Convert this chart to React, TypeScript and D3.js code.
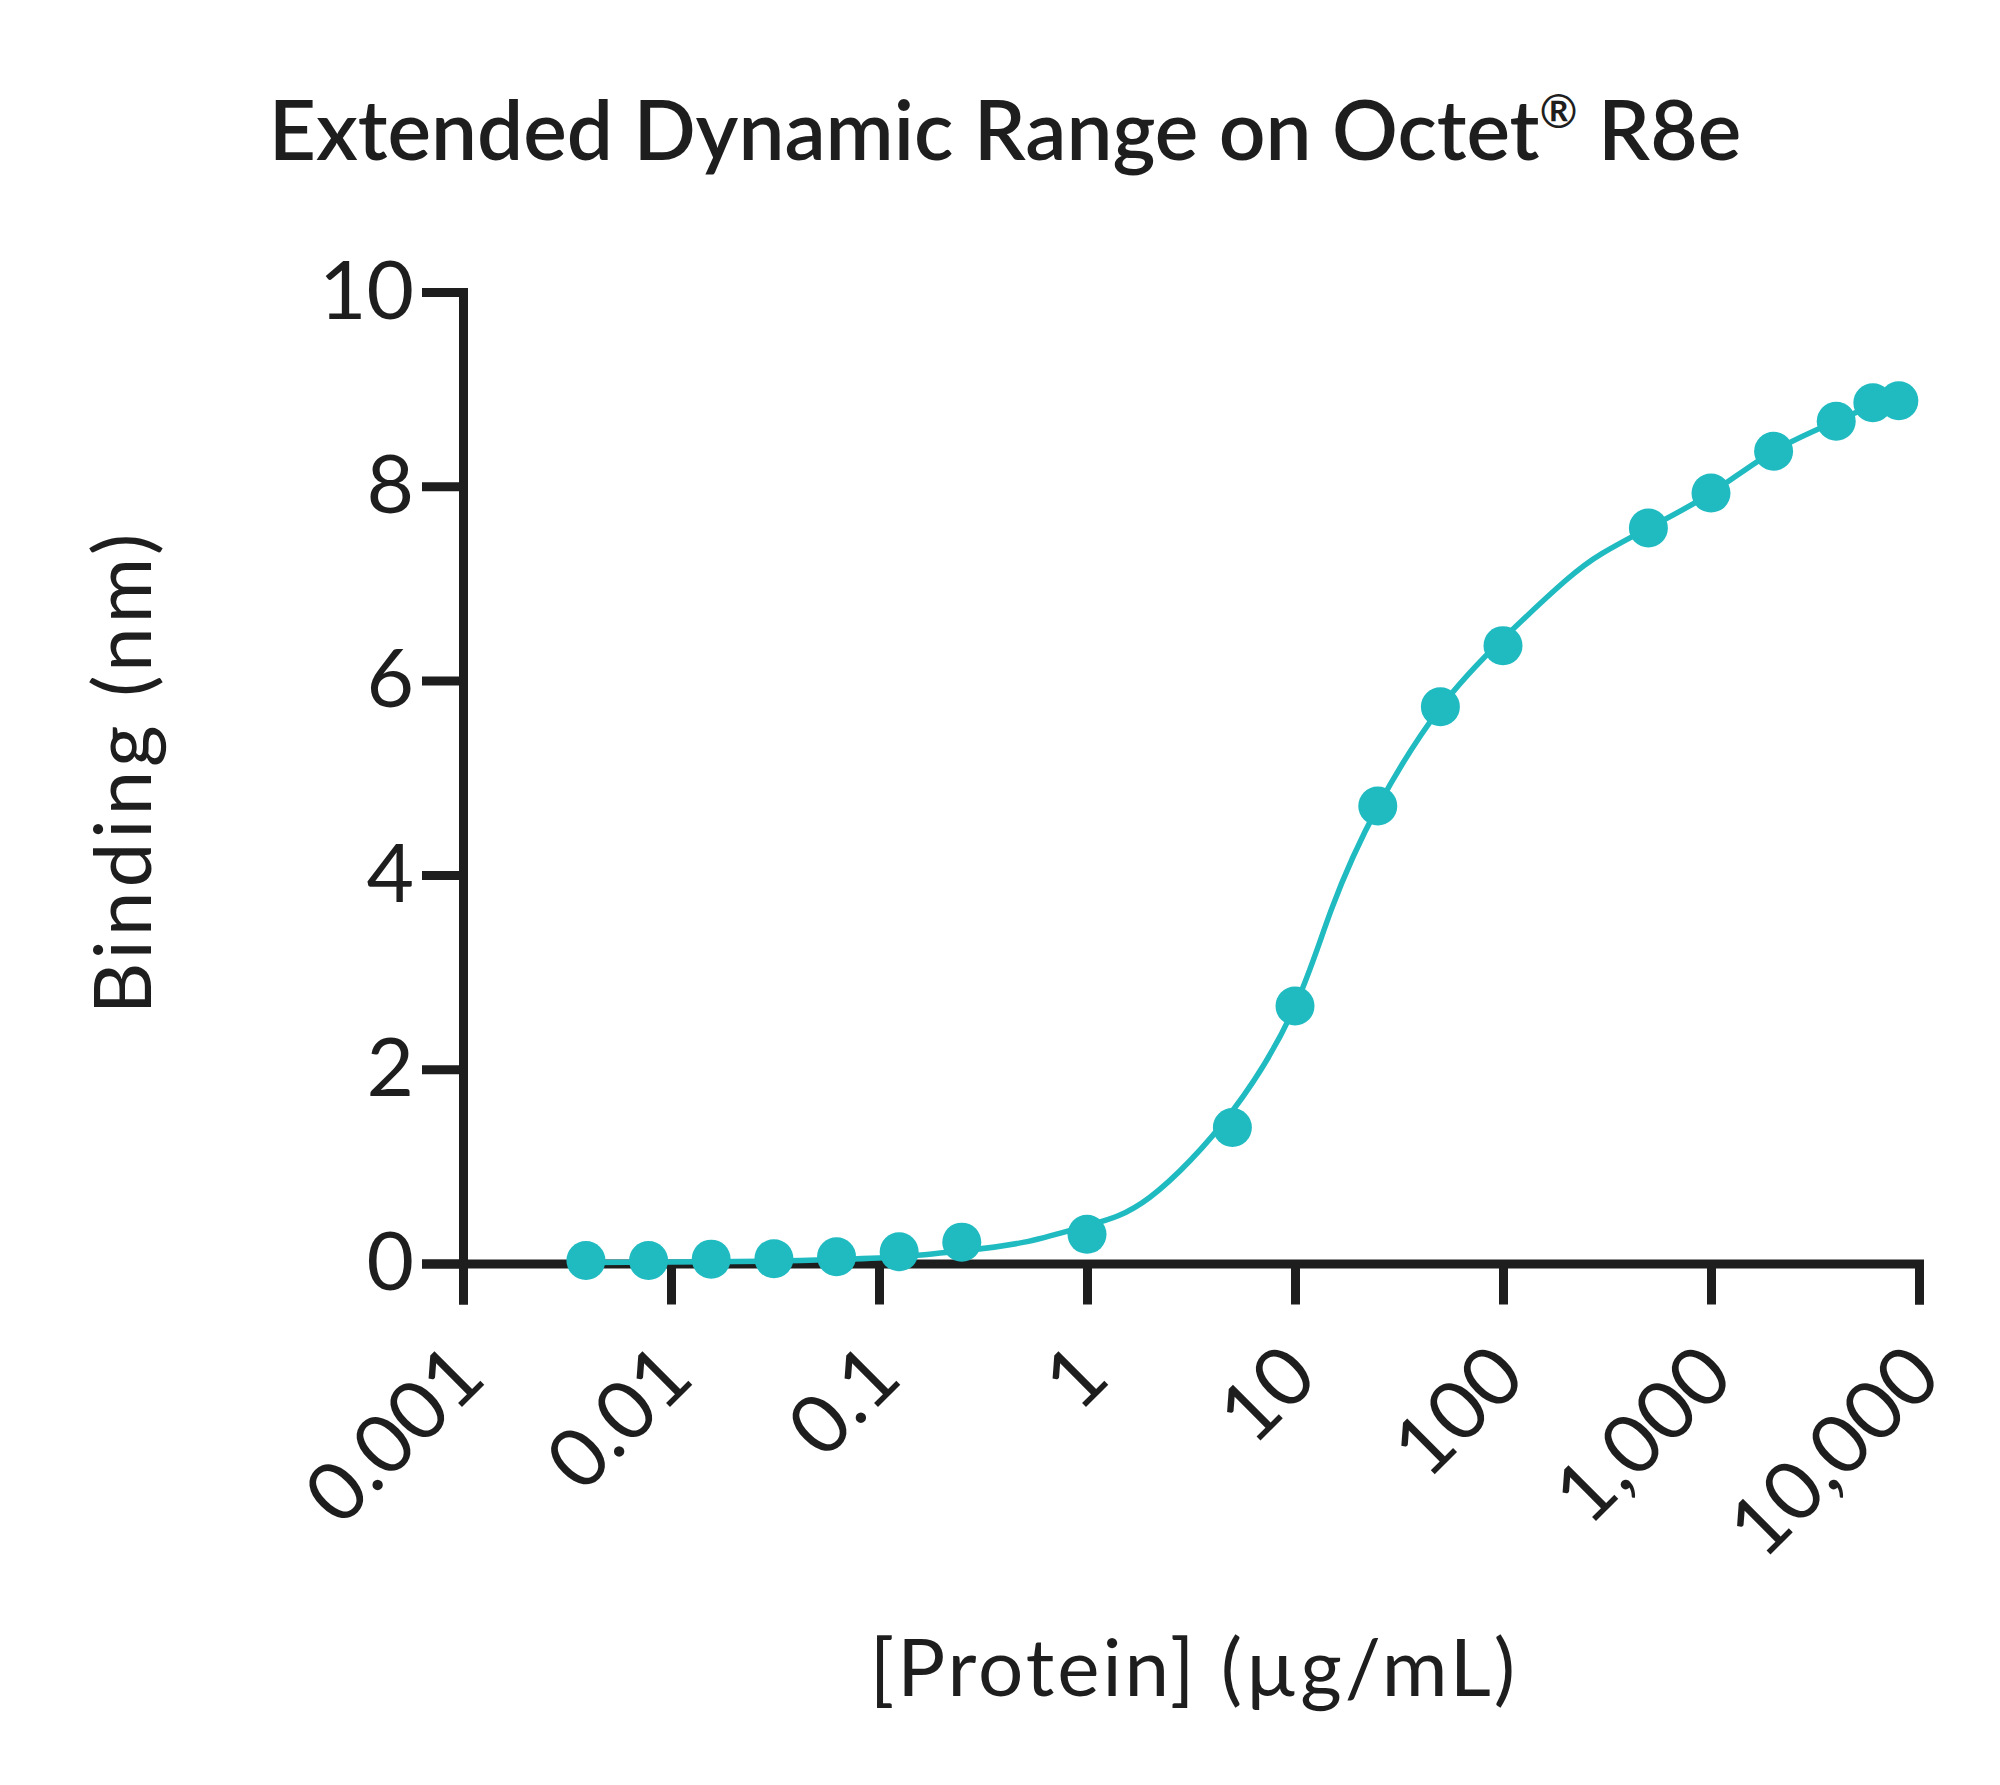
import React, { useEffect, useRef } from "react";
import * as d3 from "d3";

// Dilution series (µg/mL) and measured binding (nm)
const concentration = [
  0.0039, 0.0078, 0.0156, 0.03125, 0.0625, 0.125, 0.25, 1, 5, 10, 25, 50, 100,
  500, 1000, 2000, 4000, 6000, 8000,
];
const binding = [
  0.03, 0.03, 0.045, 0.05, 0.07, 0.12, 0.22, 0.3, 1.4, 2.65, 4.71, 5.73, 6.36,
  7.57, 7.93, 8.36, 8.67, 8.86, 8.88,
];

// Fitted curve
const fitConcentration = [
  0.0039, 0.01, 0.03, 0.06, 0.125, 0.25, 0.5, 1, 2, 5, 10, 15, 25, 50, 100,
  200, 300, 500, 1000, 2000, 4000, 6000, 8000,
];
const fitBinding = [
  0.01, 0.015, 0.025, 0.04, 0.07, 0.13, 0.22, 0.39, 0.68, 1.57, 2.65, 3.65,
  4.7, 5.72, 6.43, 7.03, 7.31, 7.57, 7.93, 8.36, 8.67, 8.83, 8.9,
];

const xTicks = [0.001, 0.01, 0.1, 1, 10, 100, 1000, 10000];
const xTickLabels = ["0.001", "0.01", "0.1", "1", "10", "100", "1,000", "10,000"];
const yTicks = [0, 2, 4, 6, 8, 10];

const titleMain = "Extended Dynamic Range on Octet";
const titleMark = "®";
const titleEnd = " R8e";
const xTitle = "[Protein] (µg/mL)";
const yTitle = "Binding (nm)";

export default function App() {
  const svgRef = useRef<SVGSVGElement>(null);

  useEffect(() => {
    const svg = d3.select(svgRef.current);
    svg.selectAll("*").remove();

    const ink = "#1e1e1e";
    const teal = "#1fbbc1";
    const font = "Lato, 'DejaVu Sans', sans-serif";

    const x = d3.scaleLog().domain([0.001, 10000]).range([463, 1919]);
    const y = d3.scaleLinear().domain([0, 10]).range([1263.5, 292]);

    // Title
    const t = svg
      .append("text")
      .attr("x", 1005)
      .attr("y", 160)
      .attr("text-anchor", "middle")
      .attr("font-family", font)
      .attr("font-weight", 600)
      .attr("font-size", 82)
      .attr("fill", ink);
    t.append("tspan").text(titleMain);
    t.append("tspan").attr("font-size", 46).attr("dy", -32).text(titleMark);
    t.append("tspan").attr("dy", 32).text(titleEnd);

    // Y axis
    const yAxis = svg
      .append("g")
      .attr("transform", `translate(${x(0.001)},0)`)
      .style("color", ink)
      .call(
        d3
          .axisLeft(y)
          .tickValues(yTicks)
          .tickSize(41)
          .tickSizeOuter(41)
          .tickPadding(8)
          .tickFormat(d3.format("d"))
      );
    yAxis.attr("font-size", 82).attr("font-family", font);
    yAxis.selectAll(".domain, .tick line").attr("stroke-width", 9);

    // X axis
    const xAxis = svg
      .append("g")
      .attr("transform", `translate(0,${y(0)})`)
      .style("color", ink)
      .call(
        d3
          .axisBottom(x)
          .tickValues(xTicks)
          .tickSize(41)
          .tickSizeOuter(41)
          .tickFormat((_, i) => xTickLabels[i])
      );
    xAxis.attr("font-size", 82).attr("font-family", font);
    xAxis.selectAll(".domain, .tick line").attr("stroke-width", 9);
    xAxis
      .selectAll(".tick text")
      .attr("x", 0)
      .attr("y", 0)
      .attr("dy", 0)
      .attr("text-anchor", "end")
      .attr("transform", "translate(25,117) rotate(-45)");

    // Axis titles
    svg
      .append("text")
      .attr("x", 1194)
      .attr("y", 1696)
      .attr("text-anchor", "middle")
      .attr("font-family", font)
      .attr("font-size", 80)
      .attr("letter-spacing", 3)
      .attr("fill", ink)
      .text(xTitle);

    svg
      .append("text")
      .attr("transform", "translate(151,772) rotate(-90)")
      .attr("text-anchor", "middle")
      .attr("font-family", font)
      .attr("font-size", 80)
      .attr("letter-spacing", 4)
      .attr("fill", ink)
      .text(yTitle);

    // Fit curve
    const line = d3
      .line<number>()
      .x((_, i) => x(fitConcentration[i]))
      .y((d) => y(d))
      .curve(d3.curveNatural);

    svg
      .append("path")
      .datum(fitBinding)
      .attr("d", line)
      .attr("fill", "none")
      .attr("stroke", teal)
      .attr("stroke-width", 5.5);

    // Measured points
    svg
      .append("g")
      .selectAll("circle")
      .data(binding)
      .join("circle")
      .attr("cx", (_, i) => x(concentration[i]))
      .attr("cy", (d) => y(d))
      .attr("r", 19.5)
      .attr("fill", teal);
  }, []);

  return (
    <svg
      ref={svgRef}
      width={2000}
      height={1785}
      style={{ position: "absolute", left: 0, top: 0, background: "#fff" }}
    />
  );
}
